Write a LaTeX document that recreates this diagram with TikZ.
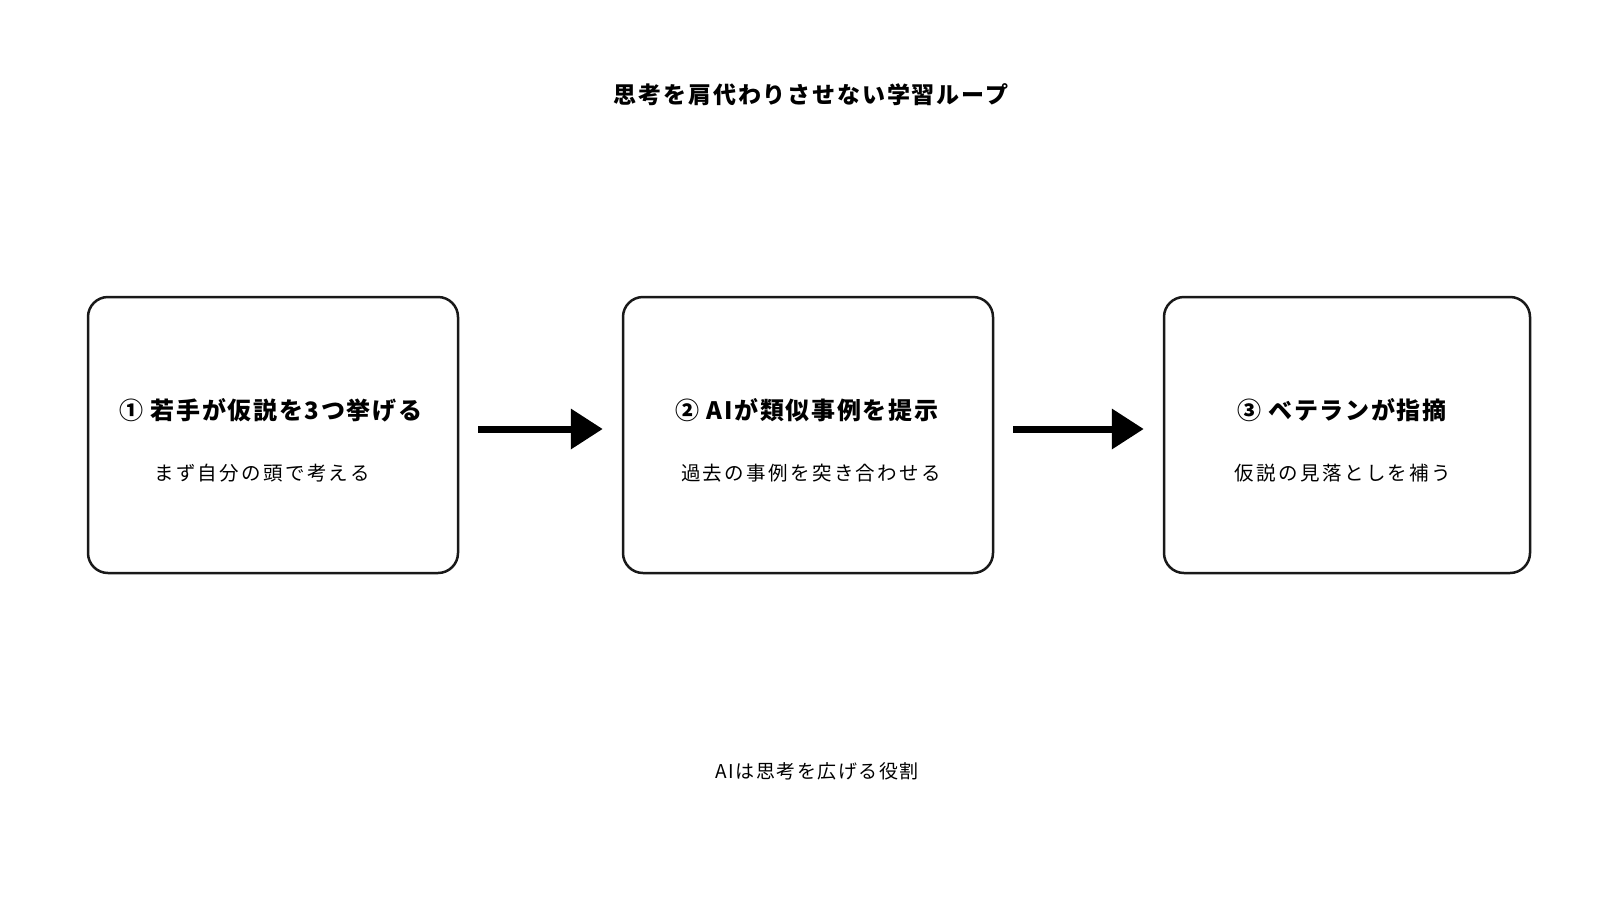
\documentclass[tikz,border=0pt]{standalone}
\usepackage{fontspec}
\setmainfont{Noto Sans CJK JP}
\usetikzlibrary{arrows.meta}

\begin{document}
\begin{tikzpicture}[x=1pt,y=-1pt]

\tikzset{step box/.style = {draw=black!90, line width=2.5pt, rounded corners=20pt,
  minimum width=370pt, minimum height=276pt, inner sep=0pt}}
\tikzset{head/.style = {font=\fontsize{24}{28}\selectfont\bfseries\addfontfeature{LetterSpace=7}}}
\tikzset{sub/.style = {font=\fontsize{19.5}{23}\selectfont\addfontfeature{LetterSpace=12}}}
\tikzset{flow/.style = {-{Triangle[length=32pt,width=39pt]}, line width=7pt}}

\useasboundingbox[fill=white] (0,0) rectangle (1600,900);

%title
\node (title) at (811,95) {\fontsize{23}{28}\selectfont\bfseries\addfontfeature{LetterSpace=8}思考を肩代わりさせない学習ループ};
%boxes
\node[step box] (1) at (273,435) {};
\node[step box] (2) at (808,435) {};
\node[step box, minimum width=366pt] (3) at (1347,435) {};
%texts
\node[head] (h1) at (271,410) {① 若手が仮説を3つ挙げる};
\node[sub]  (s1) at (262,473) {まず自分の頭で考える};
\node[head] (h2) at (807,410) {② AIが類似事例を提示};
\node[sub]  (s2) at (811,473) {過去の事例を突き合わせる};
\node[head] (h3) at (1342,410) {③ ベテランが指摘};
\node[sub]  (s3) at (1343,473) {仮説の見落としを補う};
%arrows
\draw [flow] ([xshift=19pt,yshift=6pt]1.east) -- ([xshift=-19pt,yshift=6pt]2.west);
\draw [flow] ([xshift=19pt,yshift=6pt]2.east) -- ([xshift=-19pt,yshift=6pt]3.west);
%footer
\node (footer) at (817,771) {\fontsize{19}{23}\selectfont\addfontfeature{LetterSpace=8}AIは思考を広げる役割};

\end{tikzpicture}
\end{document}
